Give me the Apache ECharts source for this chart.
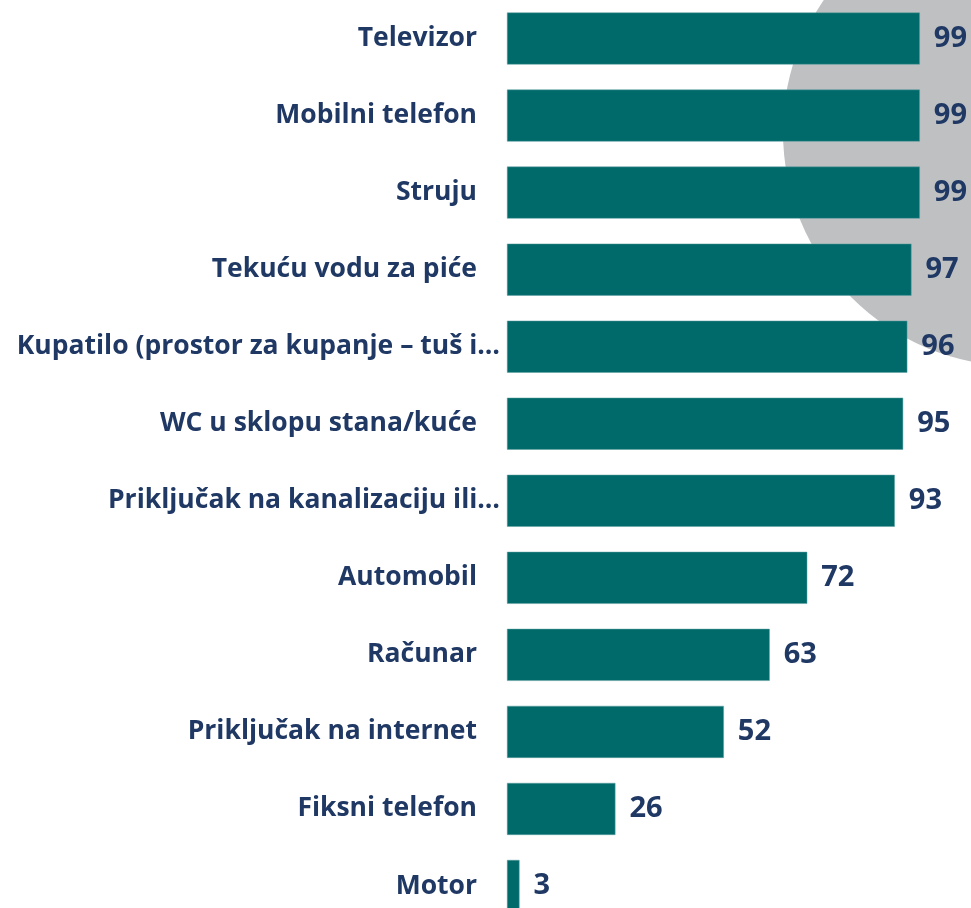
<!DOCTYPE html>
<html>
<head>
<meta charset="utf-8">
<script src="https://cdn.jsdelivr.net/npm/echarts@6/dist/echarts.min.js"></script>
<style>
  html, body { margin: 0; padding: 0; background: #fff; overflow: hidden; }
  #main { width: 971px; height: 930px; }
</style>
</head>
<body>
<div id="main"></div>
<script>
// categories from top to bottom
var categories = [
  'Televizor',
  'Mobilni telefon',
  'Struju',
  'Tekuću vodu za piće',
  'Kupatilo (prostor za kupanje – tuš i…',
  'WC u sklopu stana/kuće',
  'Priključak na kanalizaciju ili…',
  'Automobil',
  'Računar',
  'Priključak na internet',
  'Fiksni telefon',
  'Motor'
];
var values = [99, 99, 99, 97, 96, 95, 93, 72, 63, 52, 26, 3];

var textColor = '#1f3864';
var chart = echarts.init(document.getElementById('main'));

var labelFont = {
  color: textColor,
  fontFamily: 'Open Sans',
  fontWeight: 'bold',
  fontSize: 26.5
};

var option = {
  animation: false,
  graphic: [{
    type: 'circle',
    z: -10,
    shape: { cx: 1017, cy: 132, r: 234 },
    style: { fill: '#bfc0c2' }
  }],
  grid: {
    left: 507,
    right: 47,
    top: -5,
    height: 929.5
  },
  xAxis: {
    type: 'value',
    min: 0,
    max: 100,
    show: false
  },
  yAxis: {
    type: 'category',
    inverse: true,
    data: categories,
    axisLine: { show: false },
    axisTick: { show: false },
    axisLabel: {
      margin: 7,
      formatter: function (v) {
        // cut labels (ending with …) sit closer to the bars
        return v.slice(-1) === '…' ? '{t|' + v + '}' : '{n|' + v + '}';
      },
      rich: {
        n: Object.assign({ padding: [0, 23, 0, 0] }, labelFont),
        t: Object.assign({}, labelFont)
      }
    }
  },
  series: [{
    type: 'bar',
    data: values,
    barWidth: 52,
    itemStyle: {
      color: '#006a6b',
      borderColor: '#5f9ea0',
      borderWidth: 0.5
    },
    label: {
      show: true,
      position: 'right',
      distance: 14,
      color: textColor,
      fontFamily: 'Open Sans',
      fontWeight: 'bold',
      fontSize: 29
    }
  }]
};
chart.setOption(option);
</script>
</body>
</html>
